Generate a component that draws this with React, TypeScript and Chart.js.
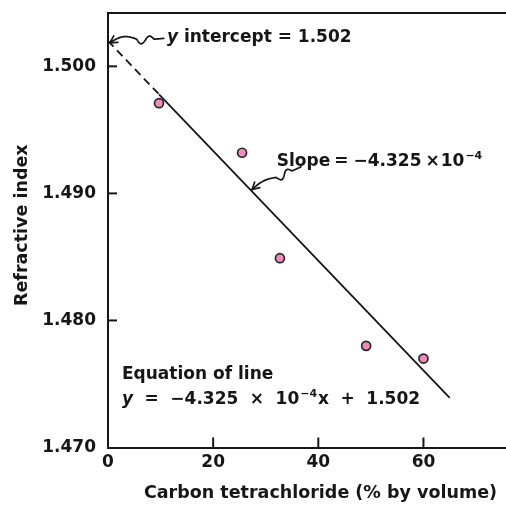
import React, { useEffect, useRef } from "react";
import { Chart, registerables } from "chart.js";

Chart.register(...registerables);

// ---- data ----
const carbonTetrachloride = [9.7, 25.5, 32.7, 49.1, 60.0]; // % by volume
const refractiveIndex = [1.4971, 1.4932, 1.4849, 1.478, 1.477];

// fitted line y = -4.325e-4 x + 1.502 : endpoints (and break point where dashes end)
const fitX = [0, 9.7, 65];
const fitY = [1.502, 1.4978, 1.4739];

const xTickValues = [0, 20, 40, 60];
const yTickValues = [1.47, 1.48, 1.49, 1.5];

const xMin = 0;
const xMax = 75.7;
const yMin = 1.47;
const yMax = 1.5042;

const xTitle = "Carbon tetrachloride (% by volume)";
const yTitle = "Refractive index";

// annotation anchors (data units)
const interceptLabel = { x: 11.2, y: 1.50228 };
const interceptArrowTail = { x: 10.6, y: 1.5022 };
const interceptArrowHead = { x: 0.35, y: 1.50185 };
const slopeLabel = { x: 32.1, y: 1.49248 };
const slopeArrowTail = { x: 36.7, y: 1.49209 };
const slopeArrowHead = { x: 27.4, y: 1.4903 };
const equationLabel = { x: 2.66, y1: 1.47571, y2: 1.47374 };

const FONT = '"DejaVu Sans", "Liberation Sans", sans-serif';
const INK = "#161616";

type Run = { text: string; size?: number; italic?: boolean; dy?: number; gap?: number };

function drawRuns(ctx: CanvasRenderingContext2D, x: number, y: number, runs: Run[], base: number) {
  let cx = x;
  ctx.textBaseline = "middle";
  ctx.textAlign = "left";
  for (const r of runs) {
    const size = r.size ?? base;
    ctx.font = `${r.italic ? "italic " : ""}bold ${size}px ${FONT}`;
    ctx.fillText(r.text, cx, y + (r.dy ?? 0));
    cx += ctx.measureText(r.text).width + (r.gap ?? 0);
  }
}

function squiggleArrow(
  ctx: CanvasRenderingContext2D,
  tx: number,
  ty: number,
  hx: number,
  hy: number,
  bulge: number,
  amp: number
) {
  const dx = hx - tx;
  const dy = hy - ty;
  const len = Math.hypot(dx, dy);
  const nx = -dy / len;
  const ny = dx / len;
  const pts: [number, number][] = [];
  const N = 80;
  for (let i = 0; i <= N; i++) {
    const t = i / N;
    let off = t < 0.45 ? 0 : bulge * Math.sin((Math.PI * (t - 0.45)) / 0.55);
    if (t > 0.18 && t < 0.5) off += amp * Math.sin((2 * Math.PI * (t - 0.18)) / 0.32);
    pts.push([tx + dx * t + nx * off, ty + dy * t + ny * off]);
  }
  ctx.beginPath();
  ctx.moveTo(pts[0][0], pts[0][1]);
  for (const p of pts) ctx.lineTo(p[0], p[1]);
  ctx.stroke();
  const a = pts[N - 4];
  const ang = Math.atan2(hy - a[1], hx - a[0]);
  const L = 8;
  const spread = 0.5;
  ctx.beginPath();
  ctx.moveTo(hx - L * Math.cos(ang - spread), hy - L * Math.sin(ang - spread));
  ctx.lineTo(hx, hy);
  ctx.lineTo(hx - L * Math.cos(ang + spread), hy - L * Math.sin(ang + spread));
  ctx.stroke();
}

const decorPlugin = {
  id: "decor",
  afterDraw(chart: any) {
    const { ctx, chartArea } = chart;
    const xs = chart.scales.x;
    const ys = chart.scales.y;
    const px = (v: number) => xs.getPixelForValue(v);
    const py = (v: number) => ys.getPixelForValue(v);
    ctx.save();
    ctx.strokeStyle = INK;
    ctx.fillStyle = INK;

    // top frame line
    ctx.lineWidth = 2;
    ctx.beginPath();
    ctx.moveTo(chartArea.left - 1, chartArea.top);
    ctx.lineTo(chartArea.right, chartArea.top);
    ctx.stroke();

    // inward tick marks
    ctx.lineWidth = 2;
    for (const v of yTickValues) {
      if (v === yMin) continue;
      const y = py(v);
      ctx.beginPath();
      ctx.moveTo(chartArea.left, y);
      ctx.lineTo(chartArea.left + 9, y);
      ctx.stroke();
    }
    for (const v of xTickValues) {
      if (v === xMin) continue;
      const x = px(v);
      ctx.beginPath();
      ctx.moveTo(x, chartArea.bottom);
      ctx.lineTo(x, chartArea.bottom - 10);
      ctx.stroke();
    }

    // axis titles
    ctx.font = `bold 17.5px ${FONT}`;
    ctx.textBaseline = "middle";
    ctx.textAlign = "right";
    ctx.fillText(xTitle, chartArea.right - 9, 493);
    ctx.save();
    ctx.translate(22, (chartArea.top + chartArea.bottom) / 2 - 5);
    ctx.rotate(-Math.PI / 2);
    ctx.textAlign = "center";
    ctx.fillText(yTitle, 0, 0);
    ctx.restore();

    // annotations
    drawRuns(
      ctx,
      px(interceptLabel.x),
      py(interceptLabel.y),
      [{ text: "y", italic: true, gap: 0 }, { text: " intercept = 1.502" }],
      17
    );
    drawRuns(
      ctx,
      px(slopeLabel.x),
      py(slopeLabel.y),
      [
        { text: "Slope", gap: 4 },
        { text: "=", gap: 5 },
        { text: "\u22124.325", gap: 4 },
        { text: "\u00d7", gap: 1 },
        { text: "10", gap: 1 },
        { text: "\u22124", size: 11, dy: -6 },
      ],
      17
    );
    drawRuns(ctx, px(equationLabel.x), py(equationLabel.y1), [{ text: "Equation of line" }], 17);
    const g = 11.5;
    drawRuns(
      ctx,
      px(equationLabel.x),
      py(equationLabel.y2),
      [
        { text: "y", italic: true, gap: g },
        { text: "=", gap: g },
        { text: "\u22124.325", gap: g },
        { text: "\u00d7", gap: g },
        { text: "10", gap: 1 },
        { text: "\u22124", size: 11, dy: -6, gap: 1 },
        { text: "x", gap: g },
        { text: "+", gap: g },
        { text: "1.502" },
      ],
      17
    );

    ctx.lineWidth = 1.7;
    ctx.lineCap = "round";
    squiggleArrow(
      ctx,
      px(interceptArrowTail.x),
      py(interceptArrowTail.y),
      px(interceptArrowHead.x),
      py(interceptArrowHead.y),
      5,
      3.5
    );
    squiggleArrow(
      ctx,
      px(slopeArrowTail.x),
      py(slopeArrowTail.y),
      px(slopeArrowHead.x),
      py(slopeArrowHead.y),
      3,
      3.5
    );
    ctx.restore();
  },
};

const zeroPadding = (s: any) => {
  s.paddingTop = 0;
  s.paddingBottom = 0;
  s.paddingLeft = 0;
  s.paddingRight = 0;
};

export default function App() {
  const ref = useRef<HTMLCanvasElement | null>(null);
  useEffect(() => {
    if (!ref.current) return;
    const tickFont = { family: FONT, weight: "bold" as const, size: 17 };
    const chart = new Chart(ref.current, {
      type: "scatter",
      data: {
        datasets: [
          {
            type: "scatter",
            data: carbonTetrachloride.map((x, i) => ({ x, y: refractiveIndex[i] })),
            pointRadius: 4.5,
            pointBackgroundColor: "#f08cbc",
            pointBorderColor: "#262626",
            pointBorderWidth: 1.7,
            order: 1,
          },
          {
            type: "line",
            data: fitX.map((x, i) => ({ x, y: fitY[i] })),
            borderColor: INK,
            borderWidth: 1.8,
            pointRadius: 0,
            fill: false,
            tension: 0,
            segment: {
              borderDash: (c: any) => (c.p0DataIndex === 0 ? [8, 5] : undefined),
            },
            order: 2,
          } as any,
        ],
      },
      options: {
        animation: false,
        responsive: false,
        devicePixelRatio: 1,
        layout: { autoPadding: false, padding: { top: 13, right: 0, left: 0, bottom: 0 } },
        plugins: { legend: { display: false }, tooltip: { enabled: false } },
        scales: {
          x: {
            type: "linear",
            min: xMin,
            max: xMax,
            grid: { display: false, drawTicks: false },
            border: { display: true, color: INK, width: 2 },
            ticks: {
              stepSize: 20,
              includeBounds: false,
              color: INK,
              font: tickFont,
              padding: 5,
              maxRotation: 0,
            },
            afterFit: (s: any) => {
              s.height = 62.5;
              zeroPadding(s);
            },
          },
          y: {
            type: "linear",
            min: yMin,
            max: yMax,
            grid: { display: false, drawTicks: false },
            border: { display: true, color: INK, width: 2 },
            ticks: {
              stepSize: 0.01,
              includeBounds: false,
              color: INK,
              font: tickFont,
              padding: 12,
              callback: (v: any) => Number(v).toFixed(3),
            },
            afterFit: (s: any) => {
              s.width = 108;
              zeroPadding(s);
            },
          },
        },
      },
      plugins: [decorPlugin],
    });
    return () => chart.destroy();
  }, []);
  return (
    <div style={{ position: "fixed", left: 0, top: 0, width: 506, height: 510, background: "#fff" }}>
      <canvas ref={ref} width={506} height={510} style={{ display: "block" }} />
    </div>
  );
}
